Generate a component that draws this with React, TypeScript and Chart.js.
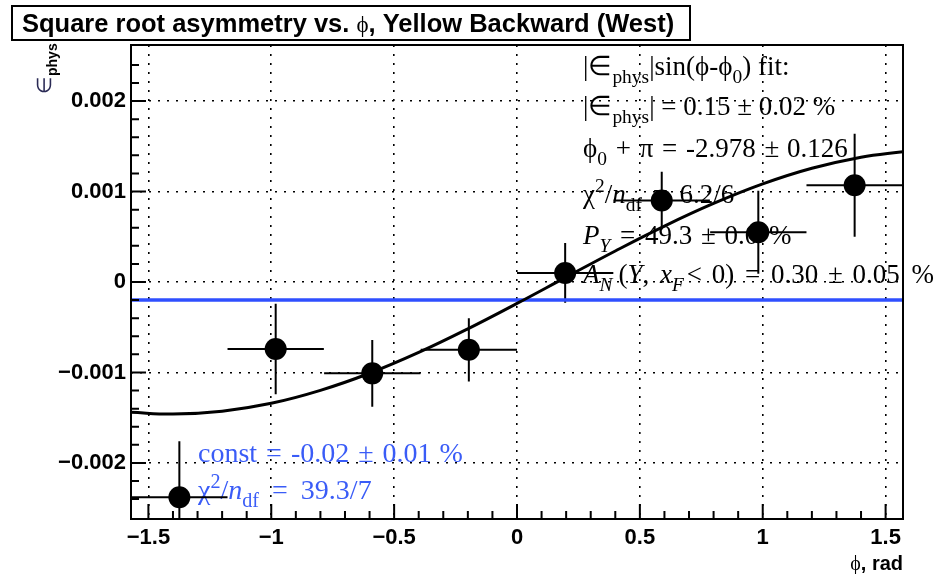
import React, { useEffect, useRef } from "react";
import { Chart, registerables } from "chart.js";
Chart.register(...registerables);

// ---- data ----
const xMin = -1.5708;
const xMax = 1.5708;
const yMin = -0.00262;
const yMax = 0.00262;

const phiCenters = [-1.374, -0.982, -0.589, -0.196, 0.196, 0.589, 0.982, 1.374];
const phiHalfWidths = [0.196, 0.196, 0.196, 0.196, 0.196, 0.196, 0.196, 0.196];
const asymValues = [-0.00238, -0.00074, -0.00101, -0.00075, 0.0001, 0.0009, 0.00055, 0.00107];
const asymErrors = [0.00062, 0.0005, 0.00037, 0.00035, 0.00033, 0.00032, 0.00046, 0.00057];

const fitPhi = [-1.5708, -1.4, -1.2, -1.0, -0.8, -0.6, -0.4, -0.2, 0, 0.2, 0.4, 0.6, 0.8, 1.0, 1.2, 1.4, 1.5708];
const fitValues = [-0.001441, -0.00146, -0.001428, -0.001341, -0.001198, -0.001009, -0.000779, -0.000518, -0.000237, 0.000054, 0.000343, 0.000618, 0.000868, 0.001084, 0.001257, 0.00138, 0.001441];

const constPhi = [-1.5708, 1.5708];
const constValues = [-0.0002, -0.0002];

const xTicks = [-1.5, -1, -0.5, 0, 0.5, 1, 1.5];
const xTickLabels = ["\u22121.5", "\u22121", "\u22120.5", "0", "0.5", "1", "1.5"];
const yTicks = [-0.002, -0.001, 0, 0.001, 0.002];
const yTickLabels = ["\u22120.002", "\u22120.001", "0", "0.001", "0.002"];

const BLUE_LINE = "#2f4fff";
const BLUE_TEXT = "#3a5cf7";
const SANS = '"Liberation Sans", Arial, sans-serif';
const SERIF = '"Liberation Serif", "Times New Roman", serif';

type Seg = { t: string; i?: boolean; s?: "sub" | "sup"; g?: number };

const statLines: Seg[][] = [
  [{ t: "|\u2208" }, { t: "phys", s: "sub" }, { t: "|sin(\u03d5-\u03d5" }, { t: "0", s: "sub" }, { t: ") fit:" }],
  [{ t: "|\u2208" }, { t: "phys", s: "sub" }, { t: "| = 0.15 \u00b1 0.02 %" }],
  [{ t: "\u03d5" }, { t: "0", s: "sub" }, { t: " +", g: 2 }, { t: " \u03c0", g: 2 }, { t: " =", g: 2 }, { t: " -2.978", g: 2 }, { t: " \u00b1", g: 2 }, { t: " 0.126", g: 1 }],
  [{ t: "\u03c7" }, { t: "2", s: "sup" }, { t: "/" }, { t: "n", i: true }, { t: "df", s: "sub" }, { t: " =", g: 4 }, { t: " 6.2/6", g: 5 }],
  [{ t: "P", i: true }, { t: "Y", s: "sub", i: true }, { t: " =", g: 3 }, { t: " 49.3", g: 3 }, { t: " \u00b1", g: 2 }, { t: " 0.0", g: 2 }, { t: " %", g: 4 }],
  [{ t: "A", i: true }, { t: "N", s: "sub", i: true }, { t: "(", g: 6 }, { t: "Y", i: true }, { t: ", " }, { t: "x", i: true, g: 4 }, { t: "F", s: "sub", i: true }, { t: "<", g: 3 }, { t: " 0)", g: 3 }, { t: " =", g: 4 }, { t: " 0.30", g: 4 }, { t: " \u00b1", g: 3 }, { t: " 0.05", g: 3 }, { t: " %", g: 5 }],
];
const statBaselines = [75, 115, 157, 203, 244, 283];

const constLines: Seg[][] = [
  [{ t: "const" }, { t: " =", g: 2 }, { t: " -0.02", g: 2 }, { t: " \u00b1", g: 2 }, { t: " 0.01", g: 2 }, { t: " %", g: 1 }],
  [{ t: "\u03c7" }, { t: "2", s: "sup" }, { t: "/" }, { t: "n", i: true }, { t: "df", s: "sub" }, { t: " =", g: 6 }, { t: " 39.3/7", g: 6 }],
];
const constBaselines = [462, 499];

function drawRich(ctx: CanvasRenderingContext2D, segs: Seg[], x: number, y: number, size: number, color: string) {
  let cx = x;
  ctx.fillStyle = color;
  ctx.textBaseline = "alphabetic";
  ctx.textAlign = "left";
  for (const sg of segs) {
    cx += sg.g || 0;
    const sz = sg.s ? size * 0.72 : size;
    ctx.font = `${sg.i ? "italic " : ""}${sz}px ${SERIF}`;
    const dy = sg.s === "sub" ? size * 0.3 : sg.s === "sup" ? -size * 0.4 : 0;
    ctx.fillText(sg.t, cx, y + dy);
    cx += ctx.measureText(sg.t).width;
  }
}

const textPlugin = {
  id: "texts",
  beforeDatasetsDraw(chart: any) {
    const { ctx, chartArea: a, scales } = chart;
    ctx.save();
    statLines.forEach((l, k) => drawRich(ctx, l, 583, statBaselines[k], 27, "#000"));
    constLines.forEach((l, k) => drawRich(ctx, l, 198, constBaselines[k], 28, BLUE_TEXT));
    // error bars
    ctx.beginPath();
    ctx.rect(a.left, a.top, a.right - a.left, a.bottom - a.top);
    ctx.clip();
    ctx.strokeStyle = "#000";
    ctx.lineWidth = 2;
    phiCenters.forEach((p, k) => {
      const px = scales.x.getPixelForValue(p);
      const py = scales.y.getPixelForValue(asymValues[k]);
      const x0 = scales.x.getPixelForValue(p - phiHalfWidths[k]);
      const x1 = scales.x.getPixelForValue(p + phiHalfWidths[k]);
      const y0 = scales.y.getPixelForValue(asymValues[k] - asymErrors[k]);
      const y1 = scales.y.getPixelForValue(asymValues[k] + asymErrors[k]);
      ctx.beginPath();
      ctx.moveTo(x0, py);
      ctx.lineTo(x1, py);
      ctx.moveTo(px, y0);
      ctx.lineTo(px, y1);
      ctx.stroke();
    });
    ctx.restore();
  },
};

const framePlugin = {
  id: "frame",
  afterDraw(chart: any) {
    const { ctx, chartArea: a, scales } = chart;
    ctx.save();
    ctx.strokeStyle = "#000";
    ctx.lineWidth = 2;
    ctx.strokeRect(a.left, a.top, a.right - a.left, a.bottom - a.top);
    ctx.beginPath();
    for (let k = -15; k <= 15; k++) {
      const px = scales.x.getPixelForValue(k / 10);
      const len = k % 5 === 0 ? 15 : 8;
      ctx.moveTo(px, a.bottom);
      ctx.lineTo(px, a.bottom - len);
    }
    for (let k = -12; k <= 12; k++) {
      const py = scales.y.getPixelForValue(k * 0.0002);
      const len = k % 5 === 0 ? 15 : 8;
      ctx.moveTo(a.left, py);
      ctx.lineTo(a.left + len, py);
    }
    ctx.stroke();

    // title box
    ctx.fillStyle = "#fff";
    ctx.fillRect(12, 6, 678, 34);
    ctx.lineWidth = 2;
    ctx.strokeRect(12, 6, 678, 34);
    ctx.fillStyle = "#000";
    ctx.textBaseline = "alphabetic";
    ctx.textAlign = "left";
    let tx = 22;
    const ty = 32;
    ctx.font = `bold 25.5px ${SANS}`;
    const t1 = "Square root asymmetry vs. ";
    ctx.fillText(t1, tx, ty);
    tx += ctx.measureText(t1).width;
    ctx.font = `23px ${SERIF}`;
    ctx.fillText("\u03d5", tx, ty);
    tx += ctx.measureText("\u03d5").width;
    ctx.font = `bold 25.5px ${SANS}`;
    ctx.fillText(", Yellow Backward (West)", tx, ty);

    // x axis title
    ctx.textAlign = "right";
    ctx.font = `bold 20px ${SANS}`;
    const rad = ", rad";
    ctx.fillText(rad, 903, 570);
    const rw = ctx.measureText(rad).width;
    ctx.font = `20px ${SERIF}`;
    ctx.fillText("\u03d5", 903 - rw, 570);

    // y axis title (rotated)
    ctx.translate(51, 94);
    ctx.rotate(-Math.PI / 2);
    ctx.textAlign = "left";
    ctx.fillStyle = "#2a2a55";
    ctx.font = `20px ${SERIF}`;
    ctx.fillText("\u2208", 0, 0);
    const ew = ctx.measureText("\u2208").width;
    ctx.fillStyle = "#000";
    ctx.font = `bold 14px ${SANS}`;
    ctx.fillText("phys", ew + 1, 6);
    ctx.restore();
  },
};

export default function App() {
  const ref = useRef<HTMLCanvasElement>(null);
  useEffect(() => {
    if (!ref.current) return;
    const chart = new Chart(ref.current, {
      type: "scatter",
      data: {
        datasets: [
          {
            label: "data",
            data: phiCenters.map((p, k) => ({ x: p, y: asymValues[k] })),
            pointRadius: 11,
            pointBackgroundColor: "#000",
            pointBorderColor: "#000",
            pointBorderWidth: 0,
            showLine: false,
            order: 0,
          },
          {
            label: "fit",
            data: fitPhi.map((p, k) => ({ x: p, y: fitValues[k] })),
            showLine: true,
            borderColor: "#000",
            borderWidth: 3,
            pointRadius: 0,
            tension: 0.4,
            order: 1,
          },
          {
            label: "const",
            data: constPhi.map((p, k) => ({ x: p, y: constValues[k] })),
            showLine: true,
            borderColor: BLUE_LINE,
            borderWidth: 3.5,
            pointRadius: 0,
            order: 2,
          },
        ],
      },
      options: {
        animation: false,
        responsive: true,
        maintainAspectRatio: false,
        layout: { padding: { top: 45, right: 32, left: 0, bottom: 0 } },
        plugins: { legend: { display: false }, tooltip: { enabled: false }, title: { display: false } },
        scales: {
          x: {
            type: "linear",
            min: xMin,
            max: xMax,
            afterBuildTicks: (s: any) => {
              s.ticks = xTicks.map((v) => ({ value: v }));
            },
            afterFit: (s: any) => {
              s.height = 55;
            },
            ticks: {
              autoSkip: false,
              maxRotation: 0,
              padding: 6,
              color: "#000",
              font: { family: SANS, size: 22, weight: "bold" },
              callback: (v: any) => {
                const i = xTicks.findIndex((t) => Math.abs(t - Number(v)) < 1e-9);
                return i >= 0 ? xTickLabels[i] : "";
              },
            },
            grid: { color: "#000", lineWidth: 1.6, drawTicks: false },
            border: { display: false, dash: [2, 7] },
          },
          y: {
            type: "linear",
            min: yMin,
            max: yMax,
            afterBuildTicks: (s: any) => {
              s.ticks = yTicks.map((v) => ({ value: v }));
            },
            afterFit: (s: any) => {
              s.width = 131;
            },
            ticks: {
              autoSkip: false,
              padding: 5,
              color: "#000",
              font: { family: SANS, size: 22, weight: "bold" },
              callback: (v: any) => {
                const i = yTicks.findIndex((t) => Math.abs(t - Number(v)) < 1e-12);
                return i >= 0 ? yTickLabels[i] : "";
              },
            },
            grid: { color: "#000", lineWidth: 1.6, drawTicks: false },
            border: { display: false, dash: [2, 7] },
          },
        },
      },
      plugins: [textPlugin, framePlugin],
    });
    return () => chart.destroy();
  }, []);
  return (
    <div style={{ position: "absolute", left: 0, top: 0, width: 935, height: 574, background: "#fff" }}>
      <canvas ref={ref} />
    </div>
  );
}
